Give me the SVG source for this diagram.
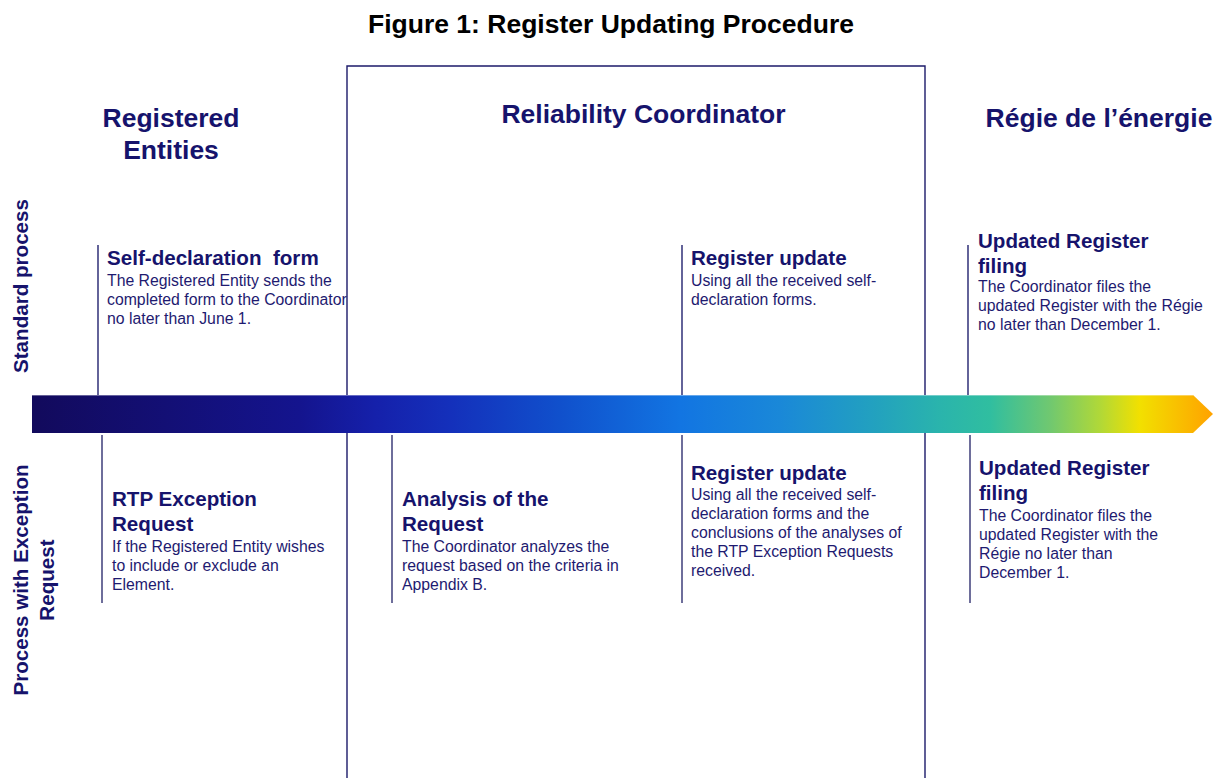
<svg xmlns="http://www.w3.org/2000/svg" width="1224" height="778" viewBox="0 0 1224 778">
<style>
text{font-family:"Liberation Sans",Arial,sans-serif}
.title{font-size:26.5px;font-weight:bold;fill:#000}
.head{font-size:26.5px;font-weight:bold;fill:#16136c}
.lane{font-size:20.6px;font-weight:bold;fill:#16136c}
.st{font-size:20.6px;font-weight:bold;fill:#16136c}
.bd{font-size:15.8px;fill:#1e1a70}
.tick{stroke:#22226e;stroke-width:1.4;fill:none}
.tickb{stroke:#4a4a82;stroke-width:1.6;fill:none}
.frame{stroke:#1c1a6a;stroke-width:1.4;fill:none}
</style>
<defs>
<linearGradient id="tl" x1="32" y1="0" x2="1213" y2="0" gradientUnits="userSpaceOnUse">
<stop offset="0" stop-color="#120a5c"/>
<stop offset="0.227" stop-color="#14148e"/>
<stop offset="0.29" stop-color="#1520aa"/>
<stop offset="0.354" stop-color="#1430bb"/>
<stop offset="0.447" stop-color="#1050cc"/>
<stop offset="0.549" stop-color="#1275e2"/>
<stop offset="0.633" stop-color="#1a88d8"/>
<stop offset="0.71" stop-color="#22a0c0"/>
<stop offset="0.769" stop-color="#2ab4ac"/>
<stop offset="0.811" stop-color="#30bea0"/>
<stop offset="0.862" stop-color="#70c870"/>
<stop offset="0.904" stop-color="#b0d838"/>
<stop offset="0.938" stop-color="#f2e000"/>
<stop offset="1" stop-color="#ffa200"/>
</linearGradient>
</defs>
<rect width="1224" height="778" fill="#fff"/>
<text class="title" x="611" y="33" text-anchor="middle">Figure 1: Register Updating Procedure</text>

<g id="lanes">
<path class="frame" d="M347,790 V66 H925 V790"/>
<text class="head" x="171" y="127" text-anchor="middle">Registered</text>
<text class="head" x="171" y="159" text-anchor="middle">Entities</text>
<text class="head" x="643.5" y="123" text-anchor="middle">Reliability Coordinator</text>
<text class="head" x="1099" y="127" text-anchor="middle">Régie de l’énergie</text>
<text class="lane" transform="translate(28,286) rotate(-90)" text-anchor="middle">Standard process</text>
<text class="lane" transform="translate(28,580) rotate(-90)" text-anchor="middle">Process with Exception</text>
<text class="lane" transform="translate(54,580) rotate(-90)" text-anchor="middle">Request</text>
</g>

<g id="connectors">
<polygon points="32,395 1193,395 1213,414 1193,433 32,433" fill="url(#tl)"/>
<line x1="32" y1="395.5" x2="1193" y2="395.5" stroke="#ffffff" stroke-opacity="0.35" stroke-width="1"/>
</g>

<g id="n-self-declaration">
<line class="tick" x1="98" y1="245" x2="98" y2="395"/>
<text class="st" x="107" y="265" xml:space="preserve">Self-declaration  form</text>
<text class="bd" x="107" y="286">The Registered Entity sends the</text>
<text class="bd" x="107" y="305">completed form to the Coordinator</text>
<text class="bd" x="107" y="324">no later than June 1.</text>
</g>

<g id="n-register-update-std">
<line class="tick" x1="682" y1="245" x2="682" y2="395"/>
<text class="st" x="691" y="265">Register update</text>
<text class="bd" x="691" y="286">Using all the received self-</text>
<text class="bd" x="691" y="305">declaration forms.</text>
</g>

<g id="n-filing-std">
<line class="tick" x1="968" y1="245" x2="968" y2="395"/>
<text class="st" x="978" y="248">Updated Register</text>
<text class="st" x="978" y="273">filing</text>
<text class="bd" x="978" y="292">The Coordinator files the</text>
<text class="bd" x="978" y="311">updated Register with the Régie</text>
<text class="bd" x="978" y="330">no later than December 1.</text>
</g>

<g id="n-rtp-request">
<line class="tickb" x1="102" y1="435" x2="102" y2="603"/>
<text class="st" x="112" y="506">RTP Exception</text>
<text class="st" x="112" y="531">Request</text>
<text class="bd" x="112" y="552">If the Registered Entity wishes</text>
<text class="bd" x="112" y="571">to include or exclude an</text>
<text class="bd" x="112" y="590">Element.</text>
</g>

<g id="n-analysis">
<line class="tickb" x1="392" y1="435" x2="392" y2="603"/>
<text class="st" x="402" y="506">Analysis of the</text>
<text class="st" x="402" y="531">Request</text>
<text class="bd" x="402" y="552">The Coordinator analyzes the</text>
<text class="bd" x="402" y="571">request based on the criteria in</text>
<text class="bd" x="402" y="590">Appendix B.</text>
</g>

<g id="n-register-update-exc">
<line class="tickb" x1="682" y1="435" x2="682" y2="603"/>
<text class="st" x="691" y="480">Register update</text>
<text class="bd" x="691" y="500">Using all the received self-</text>
<text class="bd" x="691" y="519">declaration forms and the</text>
<text class="bd" x="691" y="538">conclusions of the analyses of</text>
<text class="bd" x="691" y="557">the RTP Exception Requests</text>
<text class="bd" x="691" y="576">received.</text>
</g>

<g id="n-filing-exc">
<line class="tickb" x1="970" y1="435" x2="970" y2="603"/>
<text class="st" x="979" y="475">Updated Register</text>
<text class="st" x="979" y="500">filing</text>
<text class="bd" x="979" y="521">The Coordinator files the</text>
<text class="bd" x="979" y="540">updated Register with the</text>
<text class="bd" x="979" y="559">Régie no later than</text>
<text class="bd" x="979" y="578">December 1.</text>
</g>
</svg>
